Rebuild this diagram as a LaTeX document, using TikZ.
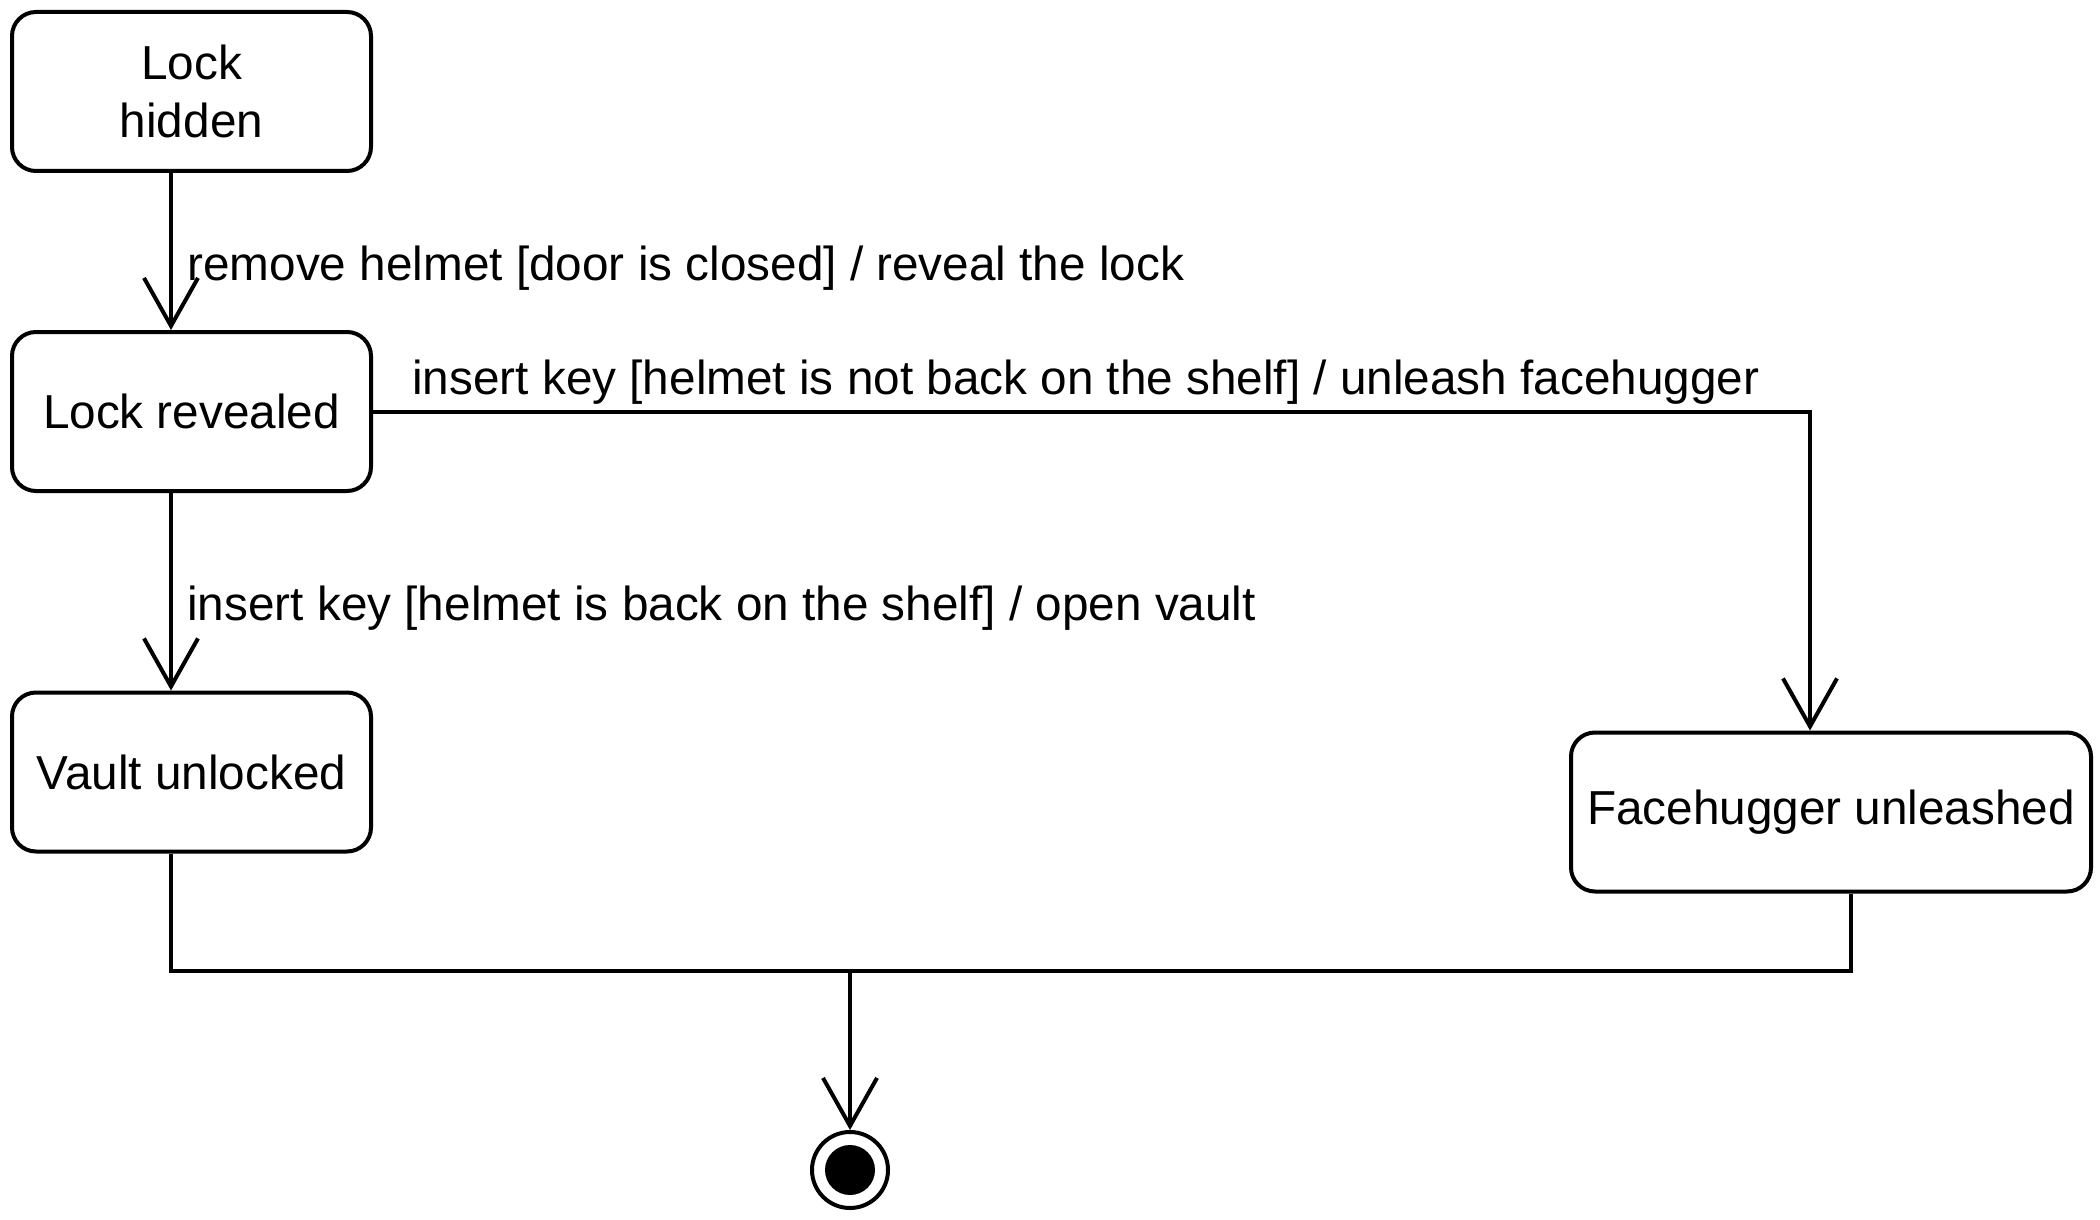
\documentclass[tikz,border=0pt]{standalone}
\usepackage{fontspec}
\setmainfont{Liberation Sans}
\usepackage{tikz}
\usetikzlibrary{calc,arrows.meta,positioning}

\tikzset{
  state/.style={draw, line width=2pt, rounded corners=12pt, inner sep=0pt,
    minimum width=179.5pt, minimum height=79.5pt, align=center},
  trans/.style={line width=2pt, -{Straight Barb[length=24pt,width=27pt,line width=2pt]}},
  line/.style={line width=2pt},
  guard/.style={anchor=west, inner sep=0pt},
  endstate/.style={circle, draw, line width=2pt, minimum size=38pt, inner sep=0pt,
    path picture={\fill (path picture bounding box.center) circle (12.5pt);}}
}

\begin{document}
\begin{tikzpicture}[x=0.5pt,y=-0.5pt,font=\fontsize{23.85}{28.8}\selectfont]
      \useasboundingbox (0,0) rectangle (2100,1220);
      \node[state] (hidden) at (191.5, 91.5) {Lock\\hidden};
      \node[state] (revealed) at (191.5, 411.5) {Lock revealed};
      \node[state] (vault) at (191.5, 772) {Vault unlocked};
      \node[state, minimum width=260pt] (face) at (1831, 812) {Facehugger unleashed};
      \node[endstate] (final) at (850, 1170) {};
      \coordinate (join) at (850, 971);
      \draw[trans] ($(hidden.south)+(-20.5,0)$) -- ($(revealed.north)+(-20.5,0)$);
      \draw[trans] ($(revealed.south)+(-20.5,0)$) -- ($(vault.north)+(-20.5,0)$);
      \draw[trans] (revealed.east) -| ($(face.north)+(-21,0)$);
      \draw[line] ($(vault.south)+(-20.5,0)$) |- (join) -| ($(face.south)+(20,0)$);
      \draw[trans] (join) -- (final);
      \node[guard] (t1) at (187, 268) {remove helmet [door is closed] / reveal the lock};
      \node[guard] (t2) at (412, 382) {insert key [helmet is not back on the shelf] / unleash facehugger};
      \node[guard] (t3) at (187, 608) {insert key [helmet is back on the shelf] / open vault};
\end{tikzpicture}
\end{document}
